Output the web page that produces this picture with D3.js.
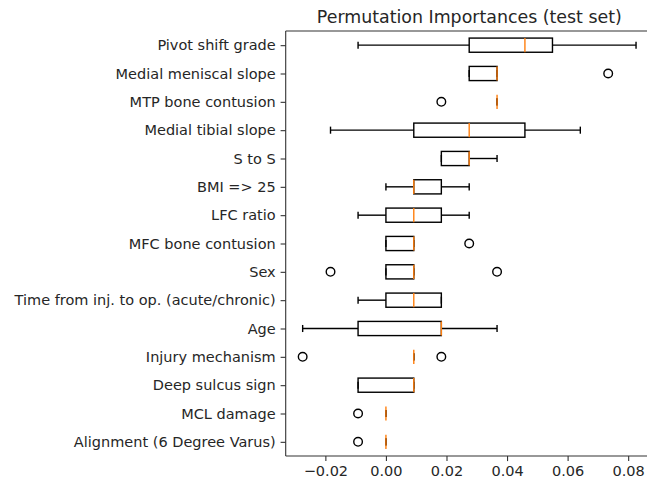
<!DOCTYPE html>
<html>
<head>
<meta charset="utf-8">
<script src="https://cdn.jsdelivr.net/npm/d3@7"></script>
<style>
  html, body { margin: 0; padding: 0; background: #ffffff; }
  svg { display: block; font-family: "DejaVu Sans", sans-serif; }
</style>
</head>
<body>
<svg id="chart" width="647" height="481"></svg>
<script>
// ---- data (top to bottom) ----
const categories = [
  "Pivot shift grade",
  "Medial meniscal slope",
  "MTP bone contusion",
  "Medial tibial slope",
  "S to S",
  "BMI => 25",
  "LFC ratio",
  "MFC bone contusion",
  "Sex",
  "Time from inj. to op. (acute/chronic)",
  "Age",
  "Injury mechanism",
  "Deep sulcus sign",
  "MCL damage",
  "Alignment (6 Degree Varus)"
];
const whiskerLow  = [-0.0092, 0.0275, 0.0367, -0.0183, 0.0183, 0.0000, -0.0092, 0.0000, 0.0000, -0.0092, -0.0275, 0.0092, -0.0092, 0.0000, 0.0000];
const q1Values    = [ 0.0275, 0.0275, 0.0367,  0.0092, 0.0183, 0.0092,  0.0000, 0.0000, 0.0000,  0.0000, -0.0092, 0.0092, -0.0092, 0.0000, 0.0000];
const medians     = [ 0.0459, 0.0367, 0.0367,  0.0275, 0.0275, 0.0092,  0.0092, 0.0092, 0.0092,  0.0092,  0.0183, 0.0092,  0.0092, 0.0000, 0.0000];
const q3Values    = [ 0.0550, 0.0367, 0.0367,  0.0459, 0.0275, 0.0183,  0.0183, 0.0092, 0.0092,  0.0183,  0.0183, 0.0092,  0.0092, 0.0000, 0.0000];
const whiskerHigh = [ 0.0826, 0.0367, 0.0367,  0.0642, 0.0367, 0.0275,  0.0275, 0.0092, 0.0092,  0.0183,  0.0367, 0.0092,  0.0092, 0.0000, 0.0000];
const outliers    = [[], [0.0734], [0.0183], [], [], [], [], [0.0275], [-0.0183, 0.0367], [], [], [-0.0275, 0.0183], [], [-0.0092], [-0.0092]];
const xTicks = [-0.02, 0.00, 0.02, 0.04, 0.06, 0.08];
const chartTitle = "Permutation Importances (test set)";

// ---- layout ----
const plotLeft = 285.7, plotRight = 653, plotTop = 31, plotBottom = 456;
const svg = d3.select("#chart");
const textColor = "#262626";
const lw = 1.4;
const tickFont = "14.5px";

const x = d3.scaleLinear().domain([-0.0331, 0.0882]).range([plotLeft, plotRight]);
const y = d3.scaleLinear().domain([0.5, categories.length + 0.5]).range([plotTop, plotBottom]);
const rowStep = y(2) - y(1);
const boxH = rowStep * 0.5;
const capH = boxH * 0.5;

const rows = categories.map((c, i) => ({
  name: c, pos: i + 1,
  lo: whiskerLow[i], q1: q1Values[i], med: medians[i], q3: q3Values[i], hi: whiskerHigh[i],
  out: outliers[i]
}));

// frame (spines)
const frame = svg.append("g");
const spine = (x1, y1, x2, y2) => frame.append("line")
  .attr("x1", x1).attr("y1", y1).attr("x2", x2).attr("y2", y2)
  .attr("stroke", "#333").attr("stroke-width", 1.1);
spine(plotLeft, plotTop, plotLeft, plotBottom);
spine(plotLeft, plotBottom, plotRight, plotBottom);
spine(plotLeft, plotTop, plotRight, plotTop);
spine(plotRight, plotTop, plotRight, plotBottom);

// x axis
const xAxis = d3.axisBottom(x).tickValues(xTicks).tickFormat(d3.format(".2f"))
  .tickSize(5.1).tickPadding(4.6);
const gx = svg.append("g").attr("transform", `translate(0,${plotBottom})`).call(xAxis);
gx.select(".domain").remove();
gx.selectAll(".tick line").attr("stroke", "#333").attr("stroke-width", 1.1);
gx.selectAll(".tick text").attr("fill", textColor).style("font-size", tickFont)
  .style("font-family", "DejaVu Sans");

// y axis
const yAxis = d3.axisLeft(y).tickValues(rows.map(r => r.pos))
  .tickFormat((d) => categories[d - 1]).tickSize(5.1).tickPadding(4.9);
const gy = svg.append("g").attr("transform", `translate(${plotLeft},0)`).call(yAxis);
gy.select(".domain").remove();
gy.selectAll(".tick line").attr("stroke", "#333").attr("stroke-width", 1.1);
gy.selectAll(".tick text").attr("fill", textColor).style("font-size", tickFont)
  .style("font-family", "DejaVu Sans");

// boxes
const g = svg.append("g");
const rg = g.selectAll("g.row").data(rows).join("g").attr("class", "row");

// whiskers
rg.append("line").attr("x1", d => x(d.lo)).attr("x2", d => x(d.q1))
  .attr("y1", d => y(d.pos)).attr("y2", d => y(d.pos))
  .attr("stroke", "#000").attr("stroke-width", lw);
rg.append("line").attr("x1", d => x(d.q3)).attr("x2", d => x(d.hi))
  .attr("y1", d => y(d.pos)).attr("y2", d => y(d.pos))
  .attr("stroke", "#000").attr("stroke-width", lw);
// caps
rg.append("line").attr("x1", d => x(d.lo)).attr("x2", d => x(d.lo))
  .attr("y1", d => y(d.pos) - capH / 2).attr("y2", d => y(d.pos) + capH / 2)
  .attr("stroke", "#000").attr("stroke-width", lw);
rg.append("line").attr("x1", d => x(d.hi)).attr("x2", d => x(d.hi))
  .attr("y1", d => y(d.pos) - capH / 2).attr("y2", d => y(d.pos) + capH / 2)
  .attr("stroke", "#000").attr("stroke-width", lw);
// box
rg.append("rect").attr("x", d => x(d.q1)).attr("width", d => x(d.q3) - x(d.q1))
  .attr("y", d => y(d.pos) - boxH / 2).attr("height", boxH)
  .attr("fill", "none").attr("stroke", "#000").attr("stroke-width", lw);
// median
rg.append("line").attr("x1", d => x(d.med)).attr("x2", d => x(d.med))
  .attr("y1", d => y(d.pos) - boxH / 2).attr("y2", d => y(d.pos) + boxH / 2)
  .attr("stroke", "#ff7f0e").attr("stroke-width", lw);
// outliers
rg.selectAll("circle").data(d => d.out.map(v => ({ v, pos: d.pos }))).join("circle")
  .attr("cx", d => x(d.v)).attr("cy", d => y(d.pos)).attr("r", 4.3)
  .attr("fill", "none").attr("stroke", "#000").attr("stroke-width", lw);

// title
svg.append("text").attr("x", (plotLeft + plotRight) / 2).attr("y", 22.5)
  .attr("text-anchor", "middle").attr("fill", textColor)
  .style("font-size", "17.4px").style("font-family", "DejaVu Sans")
  .text(chartTitle);
</script>
</body>
</html>
